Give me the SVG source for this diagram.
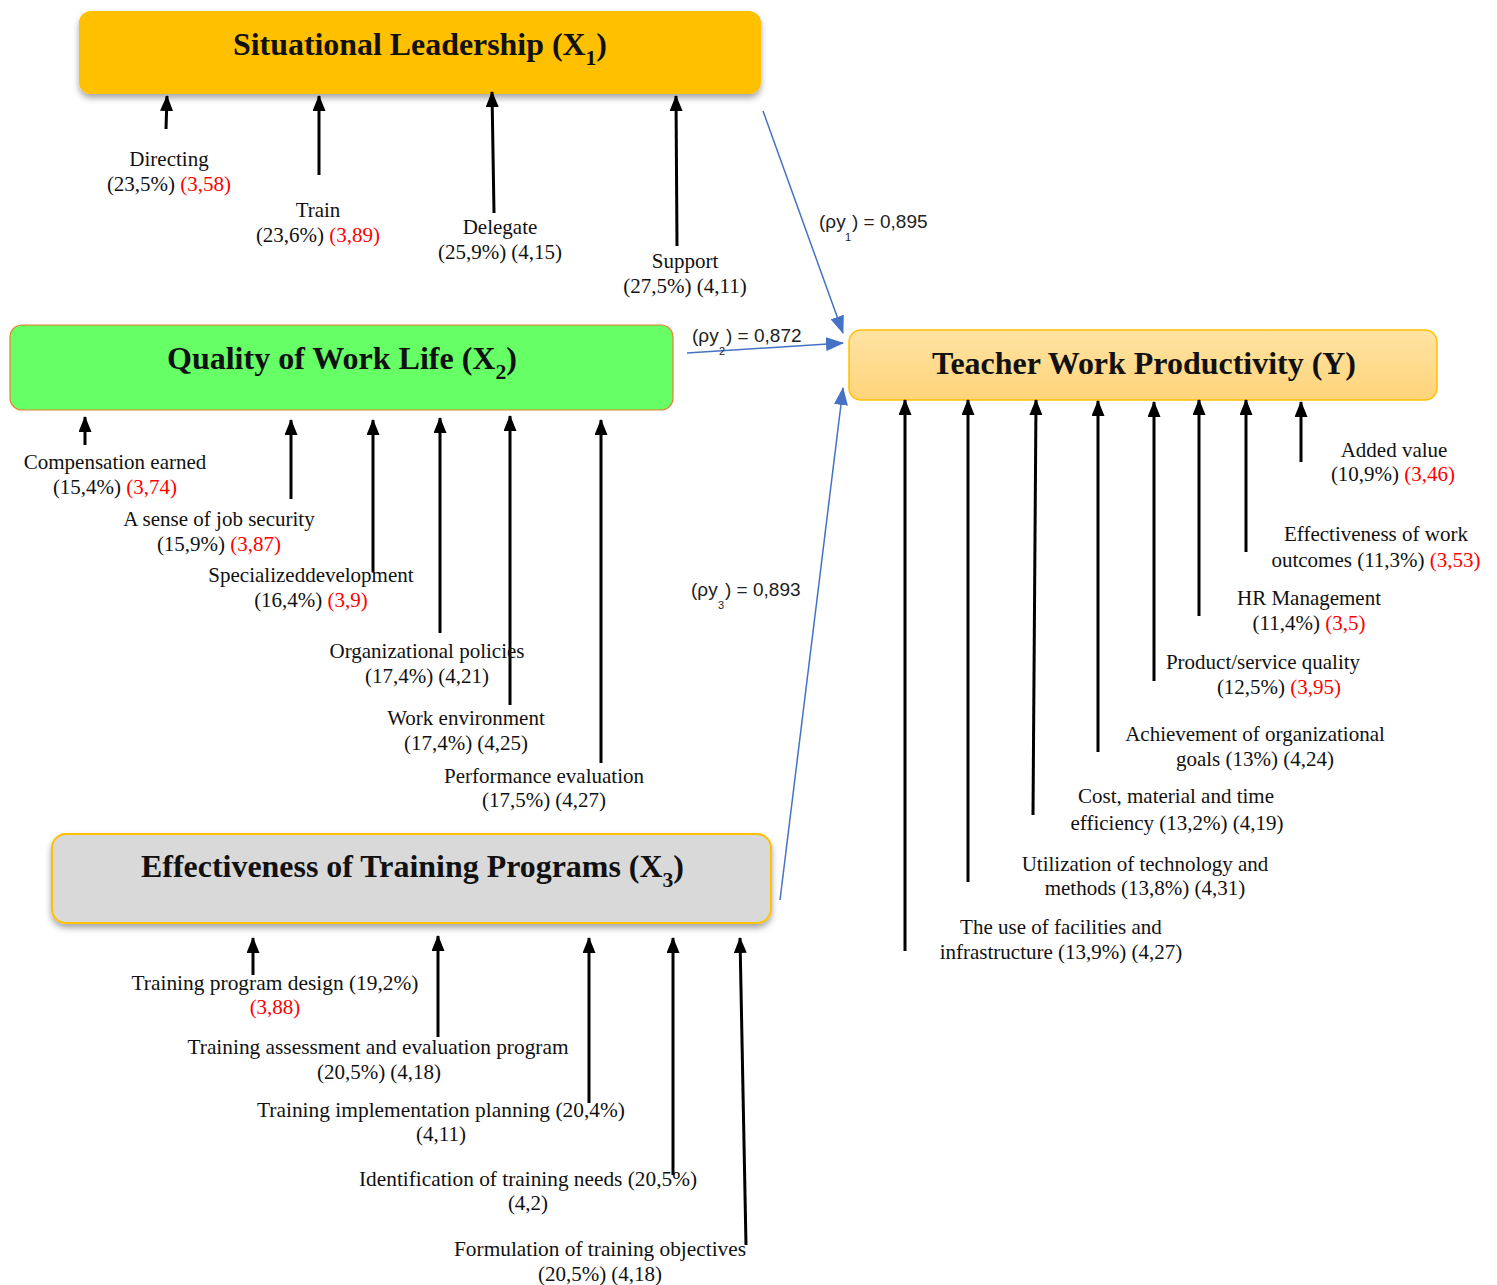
<svg xmlns="http://www.w3.org/2000/svg" width="1497" height="1285" viewBox="0 0 1497 1285">
<style>
.t{font-family:"Liberation Serif","Times New Roman",serif;font-size:21px;fill:#111;text-anchor:middle}
.r{fill:#FF0000}
.h{font-family:"Liberation Serif","Times New Roman",serif;font-weight:bold;font-size:31px;fill:#111}
.rho{font-family:"Liberation Sans",Arial,sans-serif;font-size:19px;fill:#222}
.sub{font-size:11px}
.bl{stroke:#000;stroke-width:3;fill:none;marker-end:url(#ah)}
.bu{stroke:#4472C4;stroke-width:1.5;fill:none;marker-end:url(#bh)}
</style>
<defs>
<marker id="ah" viewBox="0 0 16 13" refX="15" refY="6.5" markerWidth="16" markerHeight="13" orient="auto" markerUnits="userSpaceOnUse"><path d="M0,0 L16,6.5 L0,13 z" fill="#000"/></marker>
<marker id="bh" viewBox="0 0 18 14" refX="17" refY="7" markerWidth="18" markerHeight="14" orient="auto" markerUnits="userSpaceOnUse"><path d="M0,0 L18,7 L0,14 z" fill="#4472C4"/></marker>
<filter id="sh" x="-5%" y="-20%" width="110%" height="150%"><feDropShadow dx="0" dy="4" stdDeviation="3" flood-color="#000" flood-opacity="0.35"/></filter>
<linearGradient id="yg" x1="0" y1="0" x2="0" y2="1"><stop offset="0" stop-color="#FFE3A3"/><stop offset="1" stop-color="#FFD47A"/></linearGradient>
</defs>
<rect width="1497" height="1285" fill="#fff"/>

<g id="x1">
<rect x="79" y="11" width="682" height="83" rx="12" fill="#FFC000" filter="url(#sh)"/>
<text class="h" x="233" y="55" textLength="374" lengthAdjust="spacingAndGlyphs">Situational Leadership (X<tspan font-size="21" dy="10">1</tspan><tspan dy="-10">)</tspan></text>
</g>

<g id="x2">
<rect x="10" y="325" width="663" height="85" rx="12" fill="#66FF66" stroke="#ED7D31" stroke-width="1.2"/>
<text class="h" x="167" y="369" textLength="350" lengthAdjust="spacingAndGlyphs">Quality of Work Life (X<tspan font-size="21" dy="10">2</tspan><tspan dy="-10">)</tspan></text>
</g>

<g id="y">
<rect x="849" y="330" width="588" height="70" rx="12" fill="url(#yg)" stroke="#FFC000" stroke-width="1.5"/>
<text class="h" x="932" y="374" textLength="424" lengthAdjust="spacingAndGlyphs">Teacher Work Productivity (Y)</text>
</g>

<g id="x3">
<rect x="52" y="834" width="719" height="89" rx="14" fill="#D9D9D9" stroke="#FFC000" stroke-width="2" filter="url(#sh)"/>
<text class="h" x="141" y="877" textLength="543" lengthAdjust="spacingAndGlyphs">Effectiveness of Training Programs (X<tspan font-size="21" dy="10">3</tspan><tspan dy="-10">)</tspan></text>
</g>

<g id="connectors">
<line class="bl" x1="166" y1="129" x2="167" y2="96"/>
<line class="bl" x1="319" y1="175" x2="319" y2="96"/>
<line class="bl" x1="494" y1="213" x2="492" y2="92"/>
<line class="bl" x1="677" y1="246" x2="676" y2="96"/>

<line class="bl" x1="85" y1="445" x2="85" y2="417"/>
<line class="bl" x1="291" y1="499" x2="291" y2="420"/>
<line class="bl" x1="373" y1="572" x2="373" y2="420"/>
<line class="bl" x1="440" y1="633" x2="440" y2="418"/>
<line class="bl" x1="510" y1="705" x2="510" y2="416"/>
<line class="bl" x1="601" y1="763" x2="601" y2="420"/>

<line class="bl" x1="905" y1="951" x2="905" y2="400"/>
<line class="bl" x1="968" y1="882" x2="968" y2="400"/>
<line class="bl" x1="1033" y1="815" x2="1036" y2="400"/>
<line class="bl" x1="1098" y1="752" x2="1098" y2="401"/>
<line class="bl" x1="1154" y1="681" x2="1154" y2="402"/>
<line class="bl" x1="1199" y1="616" x2="1199" y2="400"/>
<line class="bl" x1="1246" y1="552" x2="1246" y2="400"/>
<line class="bl" x1="1301" y1="462" x2="1301" y2="402"/>

<line class="bl" x1="253" y1="975" x2="253" y2="938"/>
<line class="bl" x1="438" y1="1037" x2="438" y2="936"/>
<line class="bl" x1="589" y1="1103" x2="589" y2="938"/>
<line class="bl" x1="673" y1="1175" x2="673" y2="938"/>
<line class="bl" x1="746" y1="1245" x2="740" y2="938"/>

<line class="bu" x1="763" y1="111" x2="843" y2="333"/>
<line class="bu" x1="687" y1="353" x2="843" y2="343"/>
<line class="bu" x1="780" y1="900" x2="843" y2="388"/>

<text class="rho" x="819" y="228">(ρy<tspan class="sub" x="845" y="241">1</tspan><tspan x="852" y="228">) = 0,895</tspan></text>
<text class="rho" x="692" y="342">(ρy<tspan class="sub" x="719" y="355">2</tspan><tspan x="726" y="342">) = 0,872</tspan></text>
<text class="rho" x="691" y="596">(ρy<tspan class="sub" x="718" y="609">3</tspan><tspan x="725" y="596">) = 0,893</tspan></text>
</g>

<g id="labels-x1">
<text class="t" x="169" y="166">Directing</text>
<text class="t" x="169" y="191">(23,5%) <tspan class="r">(3,58)</tspan></text>
<text class="t" x="318" y="217">Train</text>
<text class="t" x="318" y="242">(23,6%) <tspan class="r">(3,89)</tspan></text>
<text class="t" x="500" y="234">Delegate</text>
<text class="t" x="500" y="259">(25,9%) (4,15)</text>
<text class="t" x="685" y="268">Support</text>
<text class="t" x="685" y="293">(27,5%) (4,11)</text>
</g>

<g id="labels-x2">
<text class="t" x="115" y="469">Compensation earned</text>
<text class="t" x="115" y="494">(15,4%) <tspan class="r">(3,74)</tspan></text>
<text class="t" x="219" y="526">A sense of job security</text>
<text class="t" x="219" y="551">(15,9%) <tspan class="r">(3,87)</tspan></text>
<text class="t" x="311" y="582">Specializeddevelopment</text>
<text class="t" x="311" y="607">(16,4%) <tspan class="r">(3,9)</tspan></text>
<text class="t" x="427" y="658">Organizational policies</text>
<text class="t" x="427" y="683">(17,4%) (4,21)</text>
<text class="t" x="466" y="725">Work environment</text>
<text class="t" x="466" y="750">(17,4%) (4,25)</text>
<text class="t" x="544" y="783">Performance evaluation</text>
<text class="t" x="544" y="807">(17,5%) (4,27)</text>
</g>

<g id="labels-y">
<text class="t" x="1394" y="457">Added value</text>
<text class="t" x="1393" y="481">(10,9%) <tspan class="r">(3,46)</tspan></text>
<text class="t" x="1376" y="541">Effectiveness of work</text>
<text class="t" x="1376" y="567">outcomes (11,3%) <tspan class="r">(3,53)</tspan></text>
<text class="t" x="1309" y="605">HR Management</text>
<text class="t" x="1309" y="630">(11,4%) <tspan class="r">(3,5)</tspan></text>
<text class="t" x="1263" y="669">Product/service quality</text>
<text class="t" x="1279" y="694">(12,5%) <tspan class="r">(3,95)</tspan></text>
<text class="t" x="1255" y="741">Achievement of organizational</text>
<text class="t" x="1255" y="766">goals (13%) (4,24)</text>
<text class="t" x="1176" y="803">Cost, material and time</text>
<text class="t" x="1177" y="830">efficiency (13,2%) (4,19)</text>
<text class="t" x="1145" y="871">Utilization of technology and</text>
<text class="t" x="1145" y="895">methods (13,8%) (4,31)</text>
<text class="t" x="1061" y="934">The use of facilities and</text>
<text class="t" x="1061" y="959">infrastructure (13,9%) (4,27)</text>
</g>

<g id="labels-x3">
<text class="t" x="275" y="990" textLength="287" lengthAdjust="spacingAndGlyphs">Training program design (19,2%)</text>
<text class="t r" x="275" y="1014">(3,88)</text>
<text class="t" x="378" y="1054" textLength="381" lengthAdjust="spacingAndGlyphs">Training assessment and evaluation program</text>
<text class="t" x="379" y="1079">(20,5%) (4,18)</text>
<text class="t" x="441" y="1117" textLength="368" lengthAdjust="spacingAndGlyphs">Training implementation planning (20,4%)</text>
<text class="t" x="441" y="1141">(4,11)</text>
<text class="t" x="528" y="1186" textLength="338" lengthAdjust="spacingAndGlyphs">Identification of training needs (20,5%)</text>
<text class="t" x="528" y="1210">(4,2)</text>
<text class="t" x="600" y="1256" textLength="292" lengthAdjust="spacingAndGlyphs">Formulation of training objectives</text>
<text class="t" x="600" y="1281">(20,5%) (4,18)</text>
</g>
</svg>
